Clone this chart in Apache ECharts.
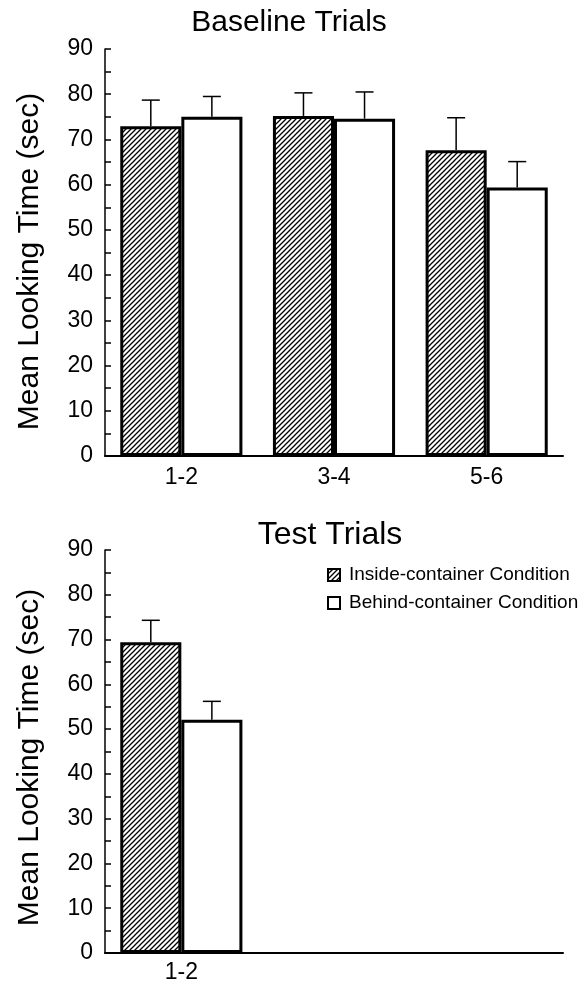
<!DOCTYPE html>
<html>
<head>
<meta charset="utf-8">
<script src="https://cdn.jsdelivr.net/npm/echarts@6/dist/echarts.min.js"></script>
<style>
html,body{margin:0;padding:0;background:#fff;}
#chart{width:588px;height:990px;}
</style>
</head>
<body>
<div id="chart"></div>
<script>
// ---- data ----
const baselineCategories = ['1-2', '3-4', '5-6'];
const testCategories = ['1-2', '', ''];
const seriesNames = ['Inside-container Condition', 'Behind-container Condition'];
const baselineInside = [72.9, 75.2, 67.6];
const baselineInsideErr = [5.8, 5.1, 7.2];
const baselineBehind = [75.0, 74.6, 59.4];
const baselineBehindErr = [4.5, 5.9, 5.7];
const testInside = [69.4];
const testInsideErr = [4.9];
const testBehind = [52.1];
const testBehindErr = [4.1];
const yTicks = [0, 10, 20, 30, 40, 50, 60, 70, 80, 90];

const FONT = "'Liberation Sans', Arial, Helvetica, sans-serif";

// hatch pattern
function makeHatch() {
  const s = 5;
  const c = document.createElement('canvas');
  c.width = s; c.height = s;
  const g = c.getContext('2d');
  g.fillStyle = '#fff';
  g.fillRect(0, 0, s, s);
  g.strokeStyle = '#000';
  g.lineWidth = 1.3;
  g.beginPath();
  g.moveTo(-1, s + 1); g.lineTo(s + 1, -1);
  g.moveTo(-1, 1); g.lineTo(1, -1);
  g.moveTo(s - 1, s + 1); g.lineTo(s + 1, s - 1);
  g.stroke();
  return c;
}
const hatch = { image: makeHatch(), repeat: 'repeat' };

function errSeries(xi, yi, means, errs, side) {
  return {
    type: 'custom',
    xAxisIndex: xi, yAxisIndex: yi,
    z: 5,
    silent: true,
    data: means.map((m, i) => [i, m, errs[i]]),
    renderItem: function (params, api) {
      const idx = api.value(0), m = api.value(1), e = api.value(2);
      const band = api.size([1, 0])[0];
      const bw = band * 0.8 / 2;
      const base = api.coord([idx, m]);
      const top = api.coord([idx, m + e]);
      const cx = base[0] + side * bw / 2;
      const cap = 9;
      return {
        type: 'group',
        children: [
          { type: 'line', shape: { x1: cx, y1: base[1], x2: cx, y2: top[1] }, style: { stroke: '#000', lineWidth: 1.5 } },
          { type: 'line', shape: { x1: cx - cap, y1: top[1], x2: cx + cap, y2: top[1] }, style: { stroke: '#000', lineWidth: 1.5 } }
        ]
      };
    }
  };
}

function yAxisDef(gi, pad) {
  return {
    type: 'value', gridIndex: gi, min: 0, max: 90, interval: 10,
    name: 'Mean Looking Time (sec)',
    nameLocation: 'middle', nameRotate: 90, nameGap: 60,
    nameTextStyle: { fontFamily: FONT, fontSize: 30, color: '#000', padding: [0, pad, 0, 0] },
    axisLine: { show: true, lineStyle: { color: '#000', width: 1.5 } },
    axisTick: { show: true, inside: true, length: 6, lineStyle: { color: '#000', width: 1.5 } },
    minorTick: { show: true, splitNumber: 2, length: 6, lineStyle: { color: '#000', width: 1.5 } },
    splitLine: { show: false },
    axisLabel: { fontFamily: FONT, fontSize: 23, color: '#000', margin: 12,
      formatter: v => yTicks.indexOf(v) >= 0 ? String(v) : '' }
  };
}

function xAxisDef(gi, cats, margin) {
  return {
    type: 'category', gridIndex: gi, data: cats,
    axisLine: { show: true, lineStyle: { color: '#000', width: 2 } },
    axisTick: { show: false },
    axisLabel: { fontFamily: FONT, fontSize: 23, color: '#000', margin: margin, interval: 0 }
  };
}

const barBase = { type: 'bar', barGap: '0%', barCategoryGap: '20%' };

const option = {
  animation: false,
  backgroundColor: '#fff',
  grid: [
    { left: 105, right: 25, top: 49, height: 407 },
    { left: 105, right: 25, top: 550, height: 403 }
  ],
  xAxis: [xAxisDef(0, baselineCategories, 10), xAxisDef(1, testCategories, 8)],
  yAxis: [yAxisDef(0, 18), yAxisDef(1, 12)],
  legend: {
    data: seriesNames,
    orient: 'vertical',
    left: 322, top: 560,
    itemWidth: 12, itemHeight: 12, itemGap: 8,
    icon: 'rect',
    itemStyle: { borderWidth: 2, borderColor: '#000' },
    textStyle: { fontFamily: FONT, fontSize: 19, color: '#000', lineHeight: 20, padding: [0, 0, 0, 4] },
    selectedMode: false
  },
  graphic: [
    { type: 'text', x: 289, y: 23, style: { text: 'Baseline Trials', font: '30px ' + FONT, fill: '#000', textAlign: 'center', textVerticalAlign: 'middle' } },
    { type: 'text', x: 330, y: 535, style: { text: 'Test Trials', font: '32px ' + FONT, fill: '#000', textAlign: 'center', textVerticalAlign: 'middle' } }
  ],
  series: [
    Object.assign({}, barBase, { name: seriesNames[0], xAxisIndex: 0, yAxisIndex: 0, data: baselineInside,
      itemStyle: { color: hatch, borderColor: '#000', borderWidth: 3 } }),
    Object.assign({}, barBase, { name: seriesNames[1], xAxisIndex: 0, yAxisIndex: 0, data: baselineBehind,
      itemStyle: { color: '#fff', borderColor: '#000', borderWidth: 3 } }),
    Object.assign({}, barBase, { name: seriesNames[0], xAxisIndex: 1, yAxisIndex: 1, data: testInside,
      itemStyle: { color: hatch, borderColor: '#000', borderWidth: 3 } }),
    Object.assign({}, barBase, { name: seriesNames[1], xAxisIndex: 1, yAxisIndex: 1, data: testBehind,
      itemStyle: { color: '#fff', borderColor: '#000', borderWidth: 3 } }),
    errSeries(0, 0, baselineInside, baselineInsideErr, -1),
    errSeries(0, 0, baselineBehind, baselineBehindErr, 1),
    errSeries(1, 1, testInside, testInsideErr, -1),
    errSeries(1, 1, testBehind, testBehindErr, 1)
  ]
};

const chart = echarts.init(document.getElementById('chart'), null, { renderer: 'canvas' });
chart.setOption(option);
</script>
</body>
</html>
